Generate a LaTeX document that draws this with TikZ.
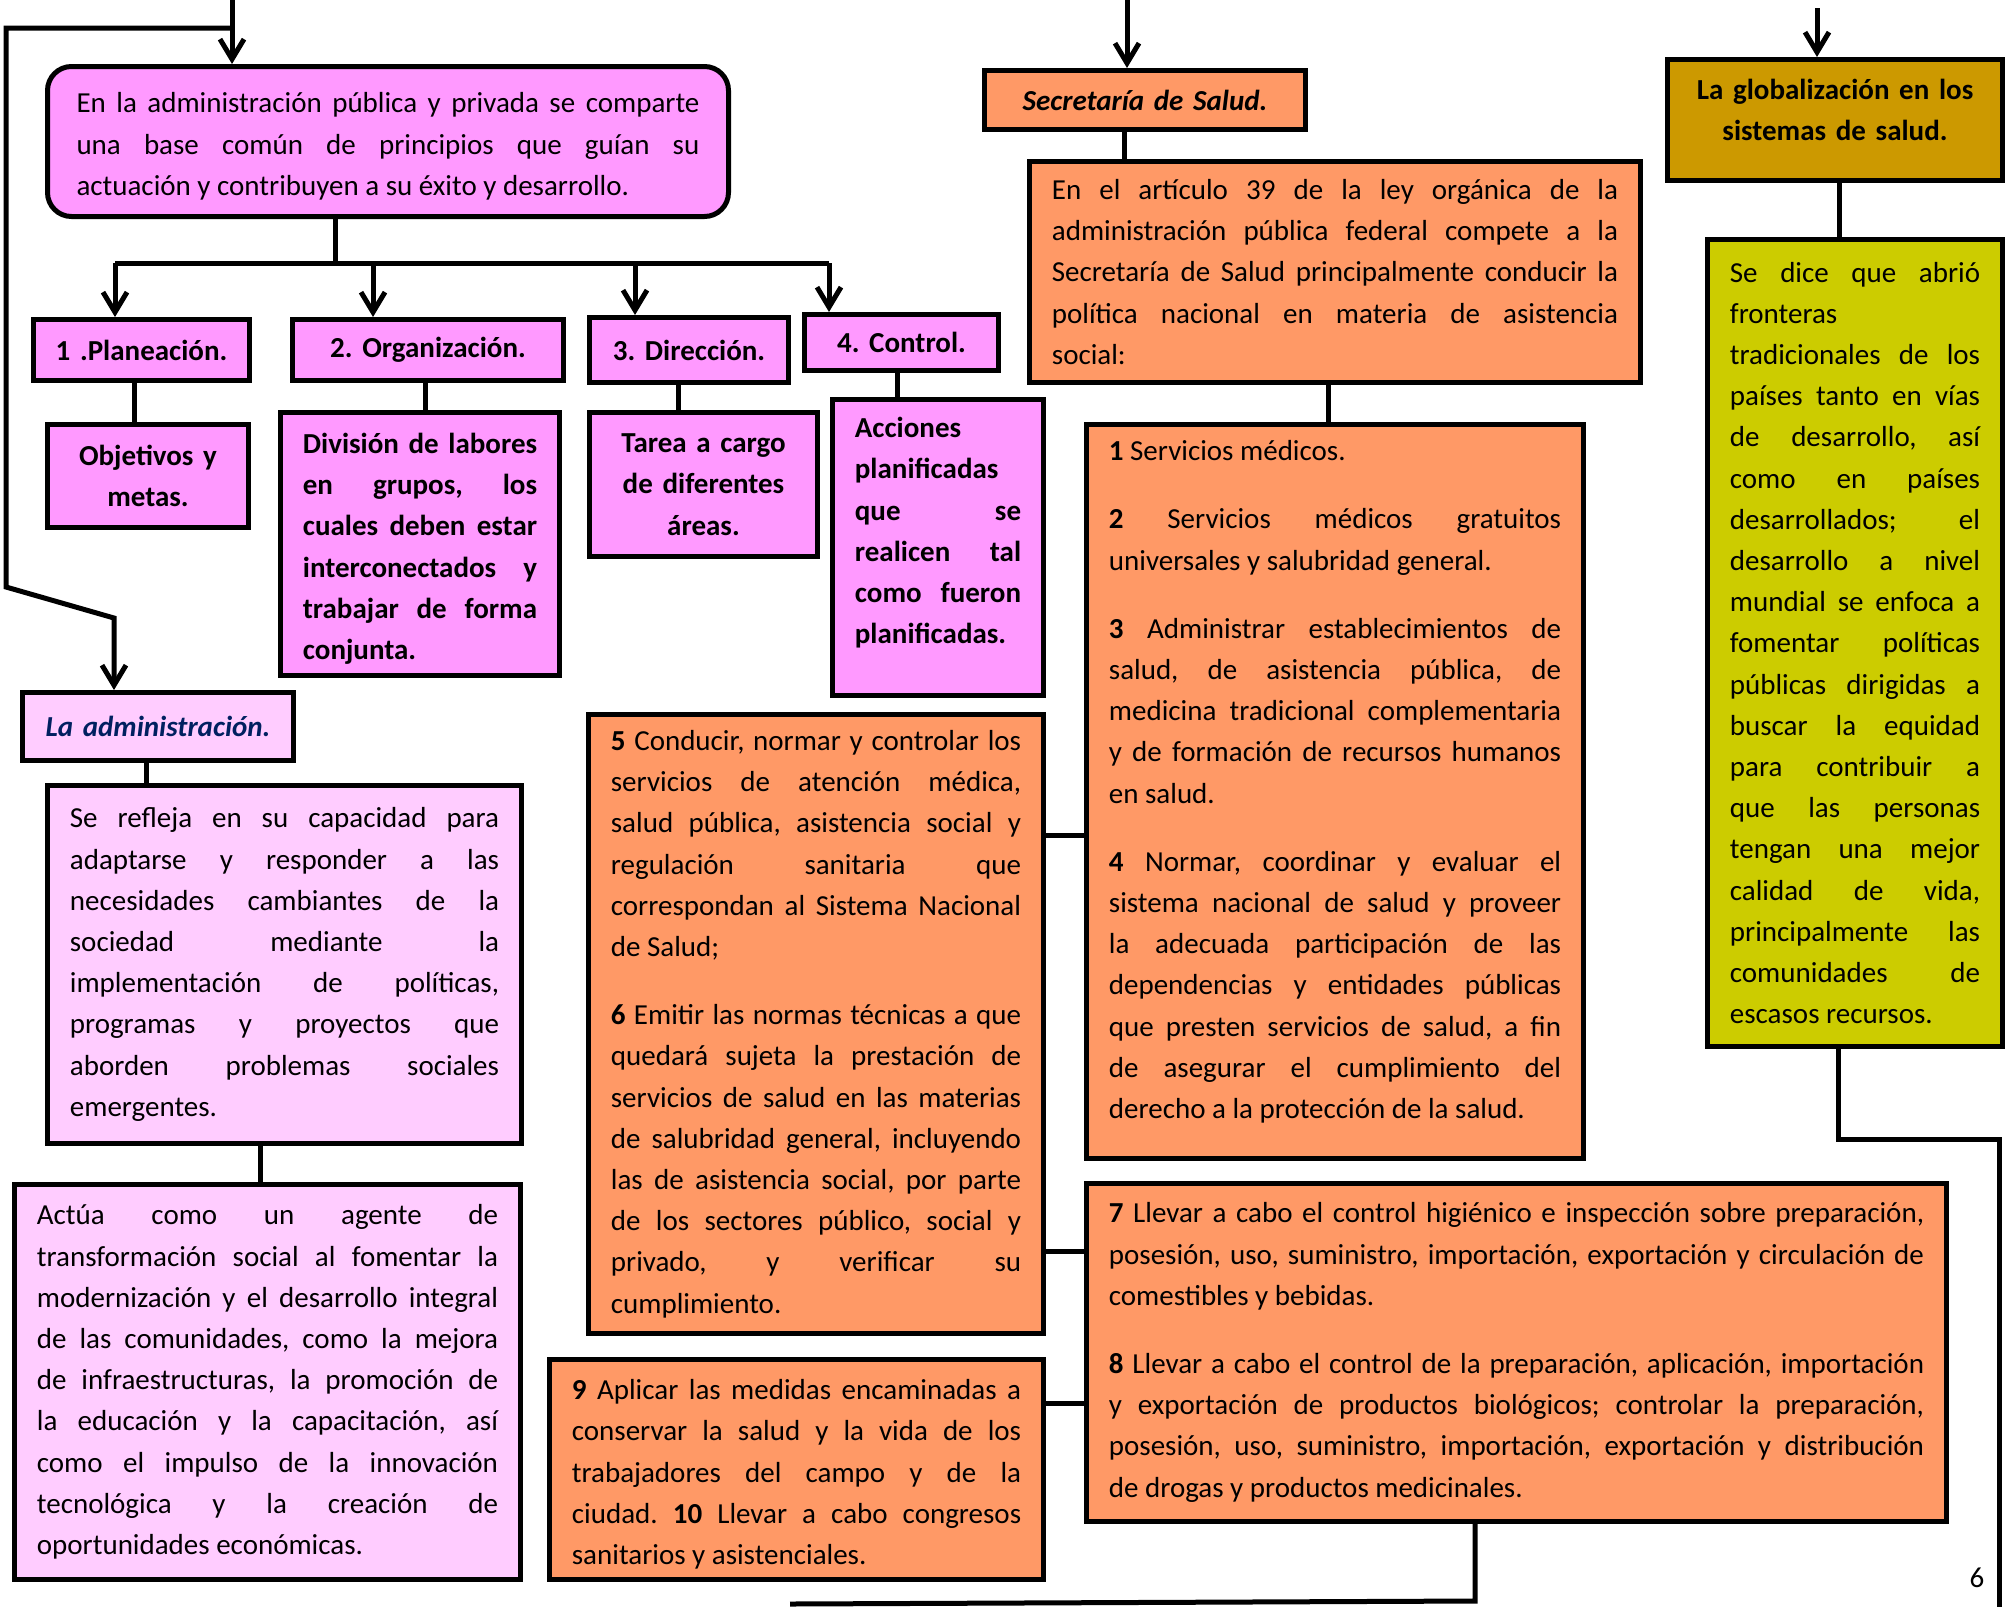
\documentclass[tikz,border=0pt]{standalone}
\usepackage{fontspec}
\setmainfont{Carlito}
\usetikzlibrary{arrows.meta}
\definecolor{pinkA}{HTML}{FF99FF}
\definecolor{pinkB}{HTML}{FFCCFF}
\definecolor{orng}{HTML}{FF9966}
\definecolor{gold}{HTML}{CC9900}
\definecolor{olive}{HTML}{CCCC00}
\definecolor{navy}{HTML}{002060}
\tolerance=10000
\hbadness=10000
\vbadness=10000
\frenchspacing
\newcommand\bodyfont{\fontsize{14.5}{20.6}\selectfont\frenchspacing}
\newcommand\pgap{\par\vspace{13.5pt}}
\newcommand\topstrut{\rule{0pt}{15pt}}
\newcommand\botstrut[1]{\rule[-#1]{0pt}{#1}}
\tikzset{
  bx/.style={draw=black, line width=2.5pt, anchor=north west, inner xsep=11.2pt, inner ysep=0pt,
    font=\bodyfont, align=justify},
  bxb/.style={bx, font={\bodyfont\bfseries}},
  bxc/.style={bx, font={\bodyfont\bfseries}, align=center, inner xsep=2pt},
  ln/.style={line width=2.5pt, line join=miter},
  arr/.style={ln, -{Straight Barb[length=10pt,width=12pt,line width=2.5pt]}},
}
\begin{document}
\begin{tikzpicture}[x=0.5pt,y=-0.5pt]
\useasboundingbox (0,0) rectangle (2007,1607);
\fill[white] (0,0) rectangle (2007,1607);

% ---------- left part ----------
\node[bx, fill=pinkA, rounded corners=12pt, inner xsep=14.5pt, text width=311.5pt, minimum height=75pt] (A) at (45,64)
  {\topstrut En la administración pública y privada se comparte\linebreak una base común de principios que guían su\linebreak actuación y contribuyen a su éxito y desarrollo.};

\node[bxc, fill=pinkA, text width=104pt, minimum height=30.5pt] (plan) at (31,317) {1 .Planeación.};
\node[bxc, fill=pinkA, text width=131.5pt, minimum height=30.5pt] (org) at (290,317) {2. Organización.};
\node[bxc, fill=pinkA, text width=95.5pt, minimum height=32.5pt] (dir) at (587,315) {3. Dirección.};
\node[bxc, fill=pinkA, text width=93pt, minimum height=28pt] (ctrl) at (802,312) {4. Control.};

\node[bxc, fill=pinkA, text width=96.5pt, minimum height=51.5pt] (obj) at (45,422) {Objetivos y\\metas.};
\node[bxb, fill=pinkA, text width=117.1pt, minimum height=131.5pt] (div) at (278,410)
  {\topstrut División de labores\linebreak en grupos, los\linebreak cuales deben estar\linebreak interconectados y\linebreak trabajar de forma\linebreak conjunta.};
\node[bxc, fill=pinkA, text width=110pt, minimum height=72pt] (tarea) at (587,410) {Tarea a cargo\\de diferentes\\áreas.};
\node[bxb, fill=pinkA, text width=83.1pt, minimum height=148pt] (acc) at (830,397)
  {Acciones\linebreak planificadas\linebreak que se\linebreak realicen tal\linebreak como fueron\linebreak planificadas.\botstrut{17pt}};

\node[bxc, fill=pinkB, text width=131.5pt, minimum height=34pt, text=navy, font={\bodyfont\bfseries\itshape}] (adm) at (20,690) {La administración.};
\node[bx, fill=pinkB, text width=214.6pt, minimum height=179pt] (refl) at (45,783)
  {Se refleja en su capacidad para\linebreak adaptarse y responder a las\linebreak necesidades cambiantes de la\linebreak sociedad mediante la\linebreak implementación de políticas,\linebreak programas y proyectos que\linebreak aborden problemas sociales\linebreak emergentes.};
\node[bx, fill=pinkB, text width=230.6pt, minimum height=197.5pt] (actua) at (12,1182)
  {Actúa como un agente de\linebreak transformación social al fomentar la\linebreak modernización y el desarrollo integral\linebreak de las comunidades, como la mejora\linebreak de infraestructuras, la promoción de\linebreak la educación y la capacitación, así\linebreak como el impulso de la innovación\linebreak tecnológica y la creación de\linebreak oportunidades económicas.};

% ---------- middle orange ----------
\node[bx, fill=orng, text width=205.1pt, minimum height=309.5pt] (b56) at (586,712)
  {\textbf{5} Conducir, normar y controlar los\linebreak servicios de atención médica,\linebreak salud pública, asistencia social y\linebreak regulación sanitaria que\linebreak correspondan al Sistema Nacional\linebreak de Salud;\pgap
   \textbf{6} Emitir las normas técnicas a que\linebreak quedará sujeta la prestación de\linebreak servicios de salud en las materias\linebreak de salubridad general, incluyendo\linebreak las de asistencia social, por parte\linebreak de los sectores público, social y\linebreak privado, y verificar su\linebreak cumplimiento.};
\node[bx, fill=orng, text width=224.6pt, minimum height=110pt] (b910) at (547,1357)
  {\topstrut\textbf{9} Aplicar las medidas encaminadas a\linebreak conservar la salud y la vida de los\linebreak trabajadores del campo y de la\linebreak ciudad. \textbf{10} Llevar a cabo congresos\linebreak sanitarios y asistenciales.};

% ---------- right orange ----------
\node[bxc, fill=orng, text width=156.5pt, minimum height=29.5pt, font={\bodyfont\bfseries\itshape}] (sec) at (982,68) {Secretaría de Salud.};
\node[bx, fill=orng, text width=283.1pt, minimum height=110.5pt] (art) at (1027,159)
  {En el artículo 39 de la ley orgánica de la\linebreak administración pública federal compete a la\linebreak Secretaría de Salud principalmente conducir la\linebreak política nacional en materia de asistencia\linebreak social:};
\node[bx, fill=orng, text width=226.1pt, minimum height=367pt] (b14) at (1084,422)
  {\textbf{1} Servicios médicos.\pgap
   \textbf{2} Servicios médicos gratuitos\linebreak universales y salubridad general.\pgap
   \textbf{3} Administrar establecimientos de\linebreak salud, de asistencia pública, de\linebreak medicina tradicional complementaria\linebreak y de formación de recursos humanos\linebreak en salud.\pgap
   \textbf{4} Normar, coordinar y evaluar el\linebreak sistema nacional de salud y proveer\linebreak la adecuada participación de las\linebreak dependencias y entidades públicas\linebreak que presten servicios de salud, a fin\linebreak de asegurar el cumplimiento del\linebreak derecho a la protección de la salud.\botstrut{12pt}};
\node[bx, fill=orng, text width=407.6pt, minimum height=169pt] (b78) at (1084,1181)
  {\textbf{7} Llevar a cabo el control higiénico e inspección sobre preparación,\linebreak posesión, uso, suministro, importación, exportación y circulación de\linebreak comestibles y bebidas.\pgap
   \textbf{8} Llevar a cabo el control de la preparación, aplicación, importación\linebreak y exportación de productos biológicos; controlar la preparación,\linebreak posesión, uso, suministro, importación, exportación y distribución\linebreak de drogas y productos medicinales.};

% ---------- globalization ----------
\node[bxc, fill=gold, text width=163.5pt, minimum height=60.5pt] (glob) at (1665,57) {La globalización en los\\sistemas de salud.\botstrut{10pt}};
\node[bx, fill=olive, text width=125.1pt, minimum height=403.5pt] (yel) at (1705,237)
  {Se dice que abrió\linebreak fronteras\linebreak tradicionales de los\linebreak países tanto en vías\linebreak de desarrollo, así\linebreak como en países\linebreak desarrollados; el\linebreak desarrollo a nivel\linebreak mundial se enfoca a\linebreak fomentar políticas\linebreak públicas dirigidas a\linebreak buscar la equidad\linebreak para contribuir a\linebreak que las personas\linebreak tengan una mejor\linebreak calidad de vida,\linebreak principalmente las\linebreak comunidades de\linebreak escasos recursos.};

\node[font=\bodyfont] (pg) at (1977,1578) {6};

% ---------- connectors ----------
\coordinate (tA) at (232,0);
\coordinate (l1) at (6,28);
\coordinate (l2) at (6,587);
\coordinate (l3) at (114,618);
\draw[arr] (tA) -- (tA |- A.north);
\draw[arr] (tA |- l1) -- (l1) -- (l2) -- (l3) -- (l3 |- adm.north);

\coordinate (bar) at (335,263);
\coordinate (k1) at (115,263);
\coordinate (k2) at (373,263);
\coordinate (k3) at (635,263);
\coordinate (k4) at (829,263);
\draw[ln] (bar |- A.south) -- (bar);
\draw[ln] (k1) -- (k4);
\draw[arr] (k1) -- (k1 |- plan.north);
\draw[arr] (k2) -- (k2 |- org.north);
\draw[arr] (k3) -- (k3 |- dir.north);
\draw[arr] (k4) -- (k4 |- ctrl.north);

\coordinate (v1) at (134,0);
\coordinate (v2) at (425,0);
\coordinate (v3) at (678,0);
\coordinate (v4) at (897,0);
\draw[ln] (v1 |- plan.south) -- (v1 |- obj.north);
\draw[ln] (v2 |- org.south) -- (v2 |- div.north);
\draw[ln] (v3 |- dir.south) -- (v3 |- tarea.north);
\draw[ln] (v4 |- ctrl.south) -- (v4 |- acc.north);

\coordinate (v5) at (146,0);
\coordinate (v6) at (260,0);
\draw[ln] (v5 |- adm.south) -- (v5 |- refl.north);
\draw[ln] (v6 |- refl.south) -- (v6 |- actua.north);

\coordinate (tS) at (1127,0);
\coordinate (v7) at (1124,0);
\coordinate (v8) at (1328,0);
\draw[arr] (tS) -- (tS |- sec.north);
\draw[ln] (v7 |- sec.south) -- (v7 |- art.north);
\draw[ln] (v8 |- art.south) -- (v8 |- b14.north);

\coordinate (h1) at (0,835);
\coordinate (h2) at (0,1251);
\coordinate (h3) at (0,1403);
\draw[ln] (b56.east |- h1) -- (b14.west |- h1);
\draw[ln] (b56.east |- h2) -- (b78.west |- h2);
\draw[ln] (b910.east |- h3) -- (b78.west |- h3);

\coordinate (m1) at (1475,1601);
\coordinate (m2) at (790,1604);
\draw[ln] (m1 |- b78.south) -- (m1) -- (m2);

\coordinate (tG) at (1817,8);
\coordinate (v9) at (1839,0);
\draw[arr] (tG) -- (tG |- glob.north);
\draw[ln] (v9 |- glob.south) -- (v9 |- yel.north);

\coordinate (r1) at (1838,1139);
\coordinate (r2) at (1999,1139);
\coordinate (r3) at (1999,1607);
\draw[ln] (r1 |- yel.south) -- (r1) -- (r2) -- (r3);
\end{tikzpicture}
\end{document}
